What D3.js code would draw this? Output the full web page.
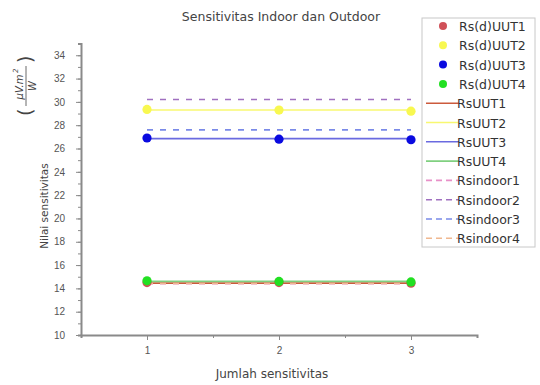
<!DOCTYPE html>
<html>
<head>
	<meta charset="utf-8">
	<title>Sensitivitas Indoor dan Outdoor</title>
	<style>
		html, body { margin:0; padding:0; background:#fff; }
		body { font-family: "DejaVu Sans", Arial, sans-serif; }
		.axis path, .axis line { stroke:#8a8a8a; }
		.axis text { fill:#555; font-size:10px; }
	</style>
	<script src="https://d3js.org/d3.v7.min.js"></script>
</head>
<body>
<svg id="chart"></svg>
<script>

	//data
	var xs = [1, 2, 3];
	var ptUUT1 = [14.5, 14.5, 14.45];
	var ptUUT2 = [29.35, 29.3, 29.2];
	var ptUUT3 = [26.9, 26.8, 26.75];
	var ptUUT4 = [14.65, 14.6, 14.55];
	var lineUUT = [14.45, 29.3, 26.85, 14.6];
	var lineIndoor = [14.4, 30.2, 27.6, 14.42];
	var yTicks = [10, 12, 14, 16, 18, 20, 22, 24, 26, 28, 30, 32, 34];
	var xTicks = [1, 2, 3];

	var names = ["Rs(d)UUT1","Rs(d)UUT2","Rs(d)UUT3","Rs(d)UUT4","RsUUT1","RsUUT2","RsUUT3","RsUUT4","Rsindoor1","Rsindoor2","Rsindoor3","Rsindoor4"];
	var ptColors = ["#d05058","#f8f850","#0a0ae0","#22e022"];
	var lnColors = ["#cc5a3c","#f8f870","#6a6ae0","#80d080"];
	var dsColors = ["#e890c8","#a070c0","#7a8ae8","#f0b890"];

	var W = 540, H = 385;
	var svg = d3.select("#chart").attr("width", W).attr("height", H);

	var x = d3.scaleLinear().domain([0.5, 3.5]).range([81, 477]);
	var y = d3.scaleLinear().domain([10, 35]).range([335, 43.6]);

	//title
	svg.append("text").attr("x", 281).attr("y", 21).attr("text-anchor","middle")
		.style("font-size","12.5px").style("fill","#444").text("Sensitivitas Indoor dan Outdoor");

	//axes
	var gy = svg.append("g").attr("class","axis").attr("transform","translate("+x.range()[0]+",0)");
	gy.call(d3.axisLeft(y).tickValues(d3.range(10, 35.5, 1)).tickSize(3).tickFormat(""));
	gy.append("g").call(d3.axisLeft(y).tickValues(yTicks).tickSize(5).tickPadding(11))
		.select(".domain").remove();
	gy.selectAll(".domain").style("stroke-width","2px");

	var gx = svg.append("g").attr("class","axis").attr("transform","translate(0,"+y.range()[0]+")");
	gx.call(d3.axisBottom(x).tickValues([1.5, 2.5]).tickSize(3).tickFormat(""));
	gx.append("g").call(d3.axisBottom(x).tickValues(xTicks).tickSize(5).tickPadding(7).tickFormat(d3.format("d")))
		.select(".domain").remove();
	gx.selectAll(".domain").style("stroke-width","2px");

	//axis titles
	svg.append("text").attr("x", 272).attr("y", 378).attr("text-anchor","middle")
		.style("font-size","12px").style("fill","#444").text("Jumlah sensitivitas");
	svg.append("text").attr("transform","translate(48,206) rotate(-90)").attr("text-anchor","middle")
		.style("font-size","10.5px").style("fill","#444").text("Nilai sensitivitas");

	//unit (μW.m²/W) as fraction
	var gu = svg.append("g").attr("transform","translate(26,86) rotate(-90)").style("fill","#444");
	gu.append("text").attr("x",-30).attr("y",6).style("font-size","19px").text("(");
	gu.append("text").attr("x",-1).attr("y",-3).attr("text-anchor","middle").style("font-size","10px").style("font-style","italic").text("μV.m");
	gu.append("text").attr("x",13).attr("y",-8).style("font-size","7px").style("font-style","italic").text("2");
	gu.append("line").attr("x1",-20).attr("x2",20).attr("y1",0).attr("y2",0).style("stroke","#444").style("stroke-width",0.8);
	gu.append("text").attr("x",0).attr("y",10).attr("text-anchor","middle").style("font-size","10px").style("font-style","italic").text("W");
	gu.append("text").attr("x",23).attr("y",6).style("font-size","19px").text(")");

	//lines
	var lineGen = d3.line().x(function(d){ return x(d[0]); }).y(function(d){ return y(d[1]); });
	var g = svg.append("g");
	lineUUT.forEach(function(v, i){
		g.append("path").attr("d", lineGen(xs.map(function(xx){ return [xx, v]; })))
			.style("fill","none").style("stroke", lnColors[i]).style("stroke-width", 1.6);
	});
	lineIndoor.forEach(function(v, i){
		g.append("path").attr("d", lineGen(xs.map(function(xx){ return [xx, v]; })))
			.style("fill","none").style("stroke", dsColors[i]).style("stroke-width", 1.6)
			.style("stroke-dasharray","6,7");
	});

	//points
	[ptUUT1, ptUUT2, ptUUT3, ptUUT4].forEach(function(s, i){
		g.append("g").selectAll("circle").data(s).enter().append("circle")
			.attr("cx", function(d, j){ return x(xs[j]); })
			.attr("cy", function(d){ return y(d); })
			.attr("r", 4.6).style("fill", ptColors[i]);
	});

	//legend
	var lg = svg.append("g").attr("transform","translate(422,18)");
	lg.append("rect").attr("x",0).attr("y",0).attr("width",113).attr("height",229)
		.style("fill","#fff").style("stroke","#c8c8c8").style("stroke-width",1);
	names.forEach(function(n, i){
		var cy = 8 + i * 19.3;
		var row = lg.append("g").attr("transform","translate(0,"+cy+")");
		if (i < 4) {
			row.append("circle").attr("cx",21).attr("cy",0).attr("r",4).style("fill", ptColors[i]);
		} else {
			var c = i < 8 ? lnColors[i-4] : dsColors[i-8];
			row.append("line").attr("x1",4).attr("x2",37).attr("y1",0).attr("y2",0)
				.style("stroke", c).style("stroke-width",1.6)
				.style("stroke-dasharray", i < 8 ? null : "6,4");
		}
		row.append("text").attr("x", i < 4 ? 37 : 35).attr("y", 5)
			.style("font-size","12.5px").style("fill","#333").text(n);
	});

</script>
</body>
</html>
